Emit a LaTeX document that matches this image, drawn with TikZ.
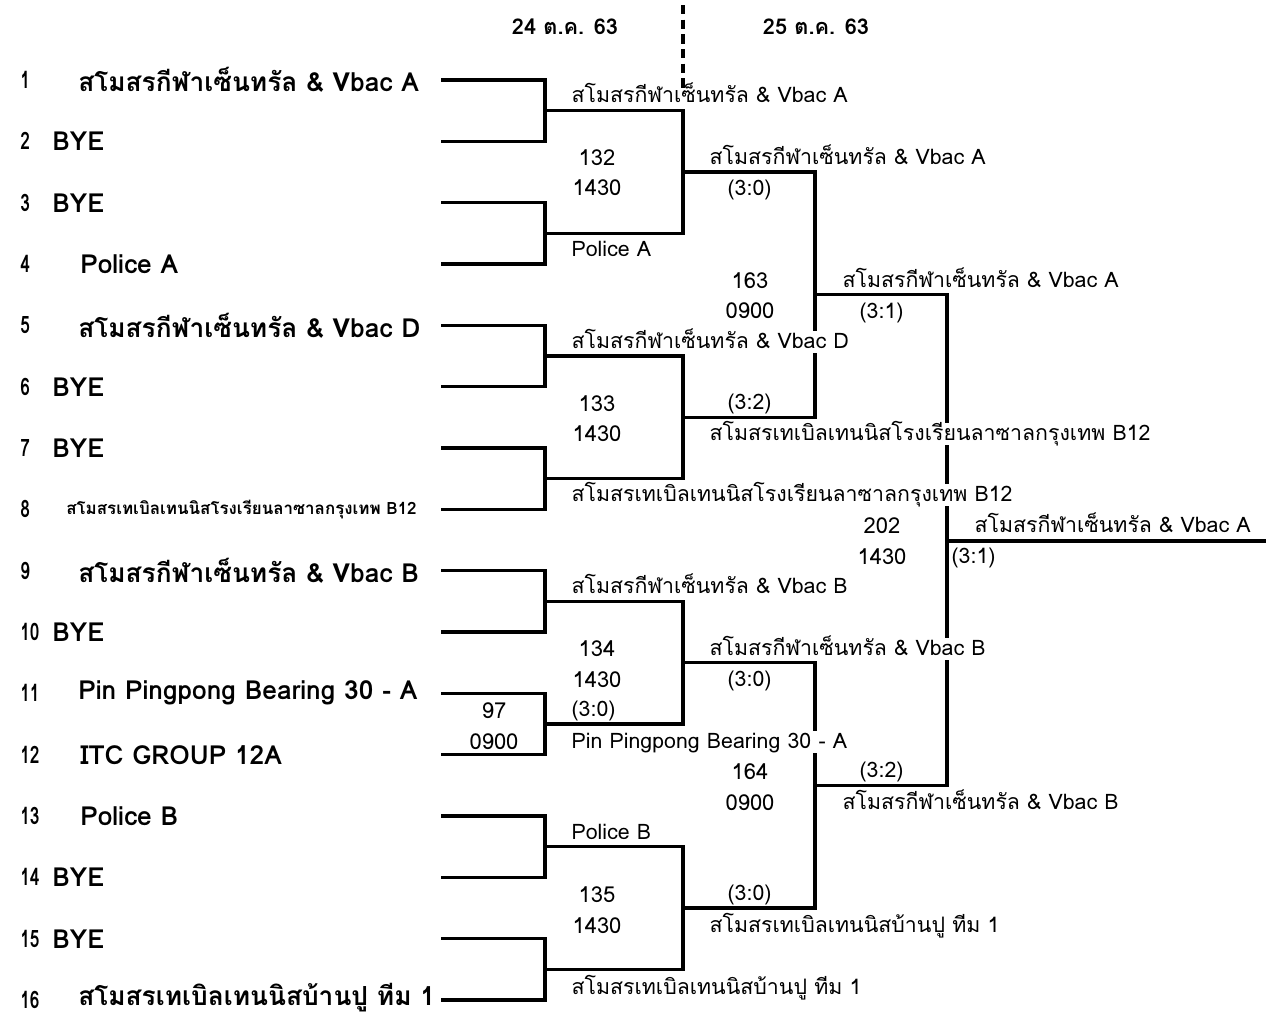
\documentclass[tikz,border=0pt]{standalone}
\usepackage{fontspec}
\usepackage{graphicx}
\setmainfont[Script=Thai]{Loma}
\newcommand{\narrownum}[1]{\scalebox{0.72}[1]{#1}}
\begin{document}
\begin{tikzpicture}[x=0.75pt,y=-0.75pt,
  ln/.style={line width=2.4pt,line cap=rect},
  team/.style={anchor=west,inner sep=0pt,font=\bfseries\fontsize{19.7}{22}\selectfont},
  rownum/.style={anchor=west,inner sep=0pt,font=\bfseries\fontsize{18}{20}\selectfont},
  smallteam/.style={anchor=west,inner sep=0pt,font=\bfseries\fontsize{12.7}{14}\selectfont},
  lbl/.style={anchor=west,fill=white,inner xsep=1pt,inner ysep=1pt,text height=12pt,text depth=2.5pt,font=\fontsize{16}{19}\selectfont},
  ctr/.style={anchor=center,inner sep=1pt,font=\fontsize{16.5}{19}\selectfont},
  hdr/.style={anchor=center,inner sep=0pt,font=\bfseries\fontsize{16.3}{19}\selectfont}]
\useasboundingbox (0,0) rectangle (1266,1017);
% row coordinates
\foreach \i in {1,...,16}{
  \pgfmathsetmacro{\yy}{80+(\i-1)*61.333}
  \coordinate (r\i) at (443,\yy);
}
\foreach \k in {1,...,8}{
  \pgfmathsetmacro{\yy}{80+61.333*(2*\k-1.5)}
  \coordinate (m\k) at (545,\yy);
}
\foreach \k in {1,...,4}{
  \pgfmathsetmacro{\yy}{80+61.333*(4*\k-2.5)}
  \coordinate (q\k) at (683,\yy);
}
\foreach \k in {1,2}{
  \pgfmathsetmacro{\yy}{80+61.333*(8*\k-4.5)}
  \coordinate (s\k) at (815,\yy);
}
\coordinate (f) at (947,541);
\coordinate (w) at (1266,541);
% brackets
\foreach \k in {1,...,8}{
  \pgfmathtruncatemacro{\a}{2*\k-1}
  \pgfmathtruncatemacro{\b}{2*\k}
  \draw[ln] (r\a) -| (m\k) |- (r\b);
}
\draw[ln] (m1) -| (q1) |- (m2);
\draw[ln] (m3) -| (q2) |- (m4);
\draw[ln] (m5) -| (q3) |- (m6);
\draw[ln] (m7) -| (q4) |- (m8);
\draw[ln] (q1) -| (s1) |- (q2);
\draw[ln] (q3) -| (s2) |- (q4);
\draw[ln] (s1) -| (f) |- (s2);
\draw[ln] (f) -- (w);
% headers
\node[hdr] (h1) at (565,27) {24 ต.ค. 63};
\node[hdr] (h2) at (816,27) {25 ต.ค. 63};
% left entries
\foreach \i in {1,...,16}{
  \pgfmathsetmacro{\yy}{80+(\i-1)*61.333}
  \node[rownum] (n\i) at (20,\yy) {\narrownum{\i}};
}
\node[team] (t1) at (78,80) {สโมสรกีฬาเซ็นทรัล \& Vbac A};
\node[team] (t2) at (52,141.3) {BYE};
\node[team] (t3) at (52,202.7) {BYE};
\node[team] (t4) at (80,264) {Police A};
\node[team] (t5) at (78,325.3) {สโมสรกีฬาเซ็นทรัล \& Vbac D};
\node[team] (t6) at (52,386.7) {BYE};
\node[team] (t7) at (52,448) {BYE};
\node[smallteam] (t8) at (66,509.3) {สโมสรเทเบิลเทนนิสโรงเรียนลาซาลกรุงเทพ B12};
\node[team] (t9) at (78,570.7) {สโมสรกีฬาเซ็นทรัล \& Vbac B};
\node[team] (t10) at (52,632) {BYE};
\node[team] (t11) at (78,693.3) {Pin Pingpong Bearing 30 - A};
\node[team] (t12) at (80,754.7) {ITC GROUP 12A};
\node[team] (t13) at (80,816) {Police B};
\node[team] (t14) at (52,877.3) {BYE};
\node[team] (t15) at (52,938.7) {BYE};
\node[team] (t16) at (78,998) {สโมสรเทเบิลเทนนิสบ้านปู ทีม 1};
% round 1 results
\node[lbl] (a1) at (570,96) {สโมสรกีฬาเซ็นทรัล \& Vbac A};
\node[ctr] (c1a) at (597,158) {132};
\node[ctr] (c1b) at (597,188) {1430};
\node[lbl] (a2) at (570,250) {Police A};
\node[lbl] (a3) at (570,342) {สโมสรกีฬาเซ็นทรัล \& Vbac D};
\node[ctr] (c2a) at (597,404) {133};
\node[ctr] (c2b) at (597,434) {1430};
\node[lbl] (a4) at (570,495) {สโมสรเทเบิลเทนนิสโรงเรียนลาซาลกรุงเทพ B12};
\node[lbl] (a5) at (570,587) {สโมสรกีฬาเซ็นทรัล \& Vbac B};
\node[ctr] (c3a) at (597,649) {134};
\node[ctr] (c3b) at (597,680) {1430};
\node[lbl] (sc3) at (570,710) {(3:0)};
\node[ctr] (c0a) at (494,711) {97};
\node[ctr] (c0b) at (494,742) {0900};
\node[lbl] (a6) at (570,742) {Pin Pingpong Bearing 30 - A};
\node[lbl] (a7) at (570,833) {Police B};
\node[ctr] (c4a) at (597,895) {135};
\node[ctr] (c4b) at (597,926) {1430};
\node[lbl] (a8) at (570,988) {สโมสรเทเบิลเทนนิสบ้านปู ทีม 1};
% round 2 results
\node[lbl] (b1) at (708,158) {สโมสรกีฬาเซ็นทรัล \& Vbac A};
\node[lbl] (sb1) at (726,189) {(3:0)};
\node[ctr] (d1a) at (750,281) {163};
\node[ctr] (d1b) at (750,311) {0900};
\node[lbl] (sb2) at (726,403) {(3:2)};
\node[lbl] (b2) at (708,434) {สโมสรเทเบิลเทนนิสโรงเรียนลาซาลกรุงเทพ B12};
\node[lbl] (b3) at (708,649) {สโมสรกีฬาเซ็นทรัล \& Vbac B};
\node[lbl] (sb3) at (726,680) {(3:0)};
\node[ctr] (d2a) at (750,772) {164};
\node[ctr] (d2b) at (750,803) {0900};
\node[lbl] (sb4) at (726,894) {(3:0)};
\node[lbl] (b4) at (708,926) {สโมสรเทเบิลเทนนิสบ้านปู ทีม 1};
% semi results
\node[lbl] (e1) at (841,281) {สโมสรกีฬาเซ็นทรัล \& Vbac A};
\node[lbl] (se1) at (858,312) {(3:1)};
\node[lbl] (se2) at (858,771) {(3:2)};
\node[lbl] (e2) at (841,803) {สโมสรกีฬาเซ็นทรัล \& Vbac B};
% final
\node[ctr] (g1a) at (882,526) {202};
\node[ctr] (g1b) at (882,557) {1430};
\node[lbl] (g1) at (973,526) {สโมสรกีฬาเซ็นทรัล \& Vbac A};
\node[lbl] (sg1) at (950,557) {(3:1)};
% dashed day divider
\coordinate (dtop) at (683,5);
\coordinate (dbot) at (683,90);
\draw[line width=2.6pt,dash pattern=on 7pt off 4pt] (dtop) -- (dbot);
\end{tikzpicture}
\end{document}
